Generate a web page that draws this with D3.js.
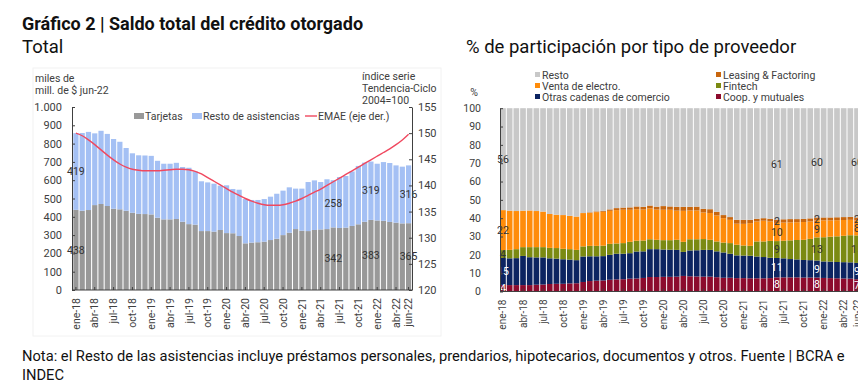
<!DOCTYPE html>
<html>
<head>
<meta charset="utf-8">
<script src="https://cdn.jsdelivr.net/npm/d3@7"></script>
<style>
body { margin: 0; background: #fff; }
svg text { font-family: Roboto, 'Liberation Sans', sans-serif; fill: #404040; }
</style>
</head>
<body>
<div id="chart"></div>
<script>
const width = 858, height = 391;

const months = ['ene-18','feb-18','mar-18','abr-18','may-18','jun-18','jul-18','ago-18','sep-18','oct-18','nov-18','dic-18',
    'ene-19','feb-19','mar-19','abr-19','may-19','jun-19','jul-19','ago-19','sep-19','oct-19','nov-19','dic-19',
    'ene-20','feb-20','mar-20','abr-20','may-20','jun-20','jul-20','ago-20','sep-20','oct-20','nov-20','dic-20',
    'ene-21','feb-21','mar-21','abr-21','may-21','jun-21','jul-21','ago-21','sep-21','oct-21','nov-21','dic-21',
    'ene-22','feb-22','mar-22','abr-22','may-22','jun-22'];
const tickMonths = ['ene-18','abr-18','jul-18','oct-18','ene-19','abr-19','jul-19','oct-19','ene-20','abr-20',
    'jul-20','oct-20','ene-21','abr-21','jul-21','oct-21','ene-22','abr-22','jun-22'];
const labelMonths = ['ene-18','jun-21','dic-21','jun-22'];

// left panel: miles de mill. de $ jun-22
const tarjetas = [438,433,437,464,470,459,444,441,433,422,416,415,413,395,386,386,388,373,360,357,322,322,319,328,
    311,310,295,255,259,261,264,273,280,300,313,333,324,322,328,331,333,342,339,341,350,359,373,383,380,378,372,368,364,365];
const restoAsist = [419,425,427,392,400,394,381,369,343,325,320,320,320,311,304,304,307,299,308,291,272,266,262,242,
    261,242,253,242,233,231,233,237,246,243,248,221,230,268,271,259,272,258,278,282,298,319,323,319,310,321,322,313,310,316];
const emae = [150.0,149.5,148.7,147.8,146.8,145.8,144.9,144.1,143.5,143.1,142.9,142.8,142.8,142.8,142.9,143.0,143.1,143.1,
    143.0,142.7,142.2,141.5,140.8,140.1,139.4,138.7,138.1,137.5,137.0,136.6,136.3,136.2,136.2,136.3,136.6,137.0,137.5,
    138.1,138.7,139.3,140.0,140.7,141.4,142.1,142.8,143.5,144.2,144.9,145.6,146.3,147.0,147.8,148.7,149.8];
const leftTicks = [0,100,200,300,400,500,600,700,800,900,1000];
const rightTicks = [120,125,130,135,140,145,150,155];

// right panel: % de participacion
const coop = [3.6,3.5,3.5,3.5,3.5,3.7,3.8,4.1,4.2,4.2,4.4,4.5,5.2,5.7,5.9,6.0,6.4,6.6,6.7,7.0,7.1,7.4,7.9,7.9,
    8.0,8.0,8.1,8.5,8.3,8.2,8.1,8.1,7.8,7.5,7.5,7.3,7.3,7.2,7.2,7.2,7.3,7.7,7.7,7.7,7.7,7.6,7.6,7.6,7.4,7.3,7.2,7.1,7.0,6.7];
const otras = [14.7,14.6,14.7,15.9,15.2,14.9,14.8,14.0,13.7,13.4,13.0,12.6,13.9,13.5,13.3,13.3,13.6,14.0,13.9,13.9,14.7,14.5,15.2,15.2,
    14.9,14.8,14.6,13.1,14.1,14.3,14.6,14.6,14.1,13.8,13.1,12.4,12.3,12.3,11.9,11.6,11.1,10.6,10.4,10.0,9.8,9.6,9.5,9.3,9.0,9.0,8.9,8.9,8.9,8.9];
const fintech = [4.3,4.6,4.9,4.8,5.5,5.6,5.6,5.7,5.8,5.7,5.7,5.6,5.5,5.7,5.7,5.7,6.0,5.6,5.8,6.2,5.9,5.9,5.4,5.1,
    5.1,5.2,5.5,5.5,6.1,6.0,5.9,5.5,5.4,5.4,5.8,5.8,5.5,5.4,8.2,8.5,9.2,9.2,9.6,10.2,10.6,11.0,11.6,12.6,13.2,13.6,14.0,14.4,14.8,15.0];
const electro = [21.8,21.4,20.8,19.9,20.0,19.7,19.4,18.5,18.2,18.4,18.2,18.2,18.2,18.0,18.4,18.5,18.0,18.2,18.2,17.5,17.2,16.9,16.8,16.5,
    16.6,16.6,15.9,16.9,15.7,15.7,14.5,14.6,14.2,13.3,12.7,11.5,11.8,12.4,10.9,11.3,10.6,9.9,9.9,9.8,9.7,9.7,9.5,9.3,9.2,8.9,8.8,8.6,8.4,8.2];
const leasing = [0,0,0,0,0,0,0,0,0,0,0,0,0,0.3,0.4,0.5,0.8,1.1,1.2,1.3,1.5,1.5,1.6,1.6,
    2.0,1.8,2.1,2.2,2.0,2.1,2.0,2.1,2.0,1.7,1.5,2.1,2.2,1.8,1.5,1.4,1.5,1.8,1.8,1.8,1.7,1.7,1.7,1.6,1.6,1.6,1.6,1.6,1.6,1.6];
const restoProv = [55.6,55.9,56.1,55.9,55.8,56.1,56.4,57.7,58.1,58.3,58.7,59.1,57.2,56.8,56.3,56.0,55.2,54.5,54.2,54.1,53.6,53.8,53.1,53.7,
    53.4,53.6,53.8,53.8,53.8,53.7,54.9,55.1,56.5,58.3,59.4,60.9,60.9,60.9,60.3,60.0,60.3,60.8,60.6,60.5,60.5,60.4,60.1,59.6,59.6,59.6,59.5,59.4,59.3,59.6];
const pctTicks = [0,10,20,30,40,50,60,70,80,90,100];

const provKeys = ['coop','otras','fintech','electro','leasing','resto'];
const provNames = {coop: 'Coop. y mutuales', otras: 'Otras cadenas de comercio', fintech: 'Fintech',
    electro: 'Venta de electro.', leasing: 'Leasing & Factoring', resto: 'Resto'};
const provColors = {coop: '#8c0b2d', otras: '#0c2461', fintech: '#7b8a12', electro: '#ff8c0a', leasing: '#c8660e', resto: '#c8c8c8'};

const esLocale = d3.formatLocale({decimal: ',', thousands: '.', grouping: [3], currency: ['$', '']});
const fmtMiles = esLocale.format(',');

const svg = d3.select('#chart').append('svg').attr('width', width).attr('height', height);

function drawHeader() {
    svg.append('text').attr('x', 22).attr('y', 30).style('font-size', '18px').style('font-weight', 'bold')
        .style('fill', '#111').text('Gráfico 2 | Saldo total del crédito otorgado');
    svg.append('text').attr('x', 22).attr('y', 53).style('font-size', '18.5px').style('fill', '#111').text('Total');
    svg.append('text').attr('x', 466).attr('y', 53).style('font-size', '18.5px').style('fill', '#111')
        .text('% de participación por tipo de proveedor');
    svg.append('text').attr('x', 22).attr('y', 361).style('font-size', '14.7px').style('fill', '#111')
        .text('Nota: el Resto de las asistencias incluye préstamos personales, prendarios, hipotecarios, documentos y otros. Fuente | BCRA e');
    svg.append('text').attr('x', 22).attr('y', 380).style('font-size', '14.7px').style('fill', '#111').text('INDEC');
}

function styleAxis(g) {
    g.selectAll('path, line').attr('stroke', '#404040');
    g.selectAll('text').style('fill', '#404040');
}

function drawLeft() {
    const x = d3.scaleBand().domain(months).range([73, 411.5]).paddingInner(0.17).paddingOuter(0.05);
    const y = d3.scaleLinear().domain([0, 1000]).range([290, 107]);
    const y2 = d3.scaleLinear().domain([120, 155]).range([290, 107]);

    svg.append('rect').attr('x', 33).attr('y', 68).attr('width', 408).attr('height', 268)
        .attr('fill', 'none').attr('stroke', '#f2f2f2');

    const table = months.map((m, i) => ({month: m, tarjetas: tarjetas[i], resto: restoAsist[i]}));
    const series = d3.stack().keys(['tarjetas', 'resto'])(table);
    const colors = {tarjetas: '#999999', resto: '#a4c0f4'};

    svg.append('g').selectAll('g').data(series).join('g')
        .attr('fill', d => colors[d.key])
        .selectAll('rect').data(d => d).join('rect')
            .attr('x', d => x(d.data.month))
            .attr('width', x.bandwidth())
            .attr('y', d => y(d[1]))
            .attr('height', d => y(d[0]) - y(d[1]));

    const line = d3.line().x((d, i) => x(months[i]) + x.bandwidth() / 2).y(d => y2(d)).curve(d3.curveMonotoneX);
    svg.append('path').datum(emae).attr('d', line).attr('fill', 'none')
        .attr('stroke', '#f0485f').attr('stroke-width', 1.4);

    // data labels
    const lab = svg.append('g').style('font-size', '10.5px').attr('text-anchor', 'middle');
    series.forEach(s => {
        s.forEach(d => {
            if (labelMonths.indexOf(d.data.month) < 0) return;
            lab.append('text')
                .attr('x', x(d.data.month) + x.bandwidth() / 2)
                .attr('y', (y(d[0]) + y(d[1])) / 2)
                .attr('dy', '0.35em')
                .style('fill', '#333')
                .text(d.data[s.key]);
        });
    });

    const gy = svg.append('g').attr('transform', 'translate(72,0)')
        .call(d3.axisLeft(y).tickValues(leftTicks).tickSizeInner(-3).tickSizeOuter(0).tickPadding(10)
            .tickFormat(d => fmtMiles(d)))
        .style('font-size', '11px');
    styleAxis(gy);

    const gy2 = svg.append('g').attr('transform', 'translate(412,0)')
        .call(d3.axisRight(y2).tickValues(rightTicks).tickSizeInner(-3).tickSizeOuter(0).tickPadding(6))
        .style('font-size', '11px');
    styleAxis(gy2);

    const gx = svg.append('g').attr('transform', 'translate(0,290)')
        .call(d3.axisBottom(x).tickValues(tickMonths).tickSizeInner(-3).tickSizeOuter(0))
        .style('font-size', '10.5px');
    gx.select('.domain').attr('d', 'M72,0H412');
    gx.selectAll('text').attr('transform', 'rotate(-90)').attr('text-anchor', 'end')
        .attr('x', -8).attr('y', 0).attr('dy', '0.35em');
    styleAxis(gx);

    // units
    const u = svg.append('g').style('font-size', '10.5px');
    u.append('text').attr('x', 35).attr('y', 82).text('miles de');
    u.append('text').attr('x', 35).attr('y', 94).text('mill. de $ jun-22');
    u.append('text').attr('x', 362).attr('y', 80).text('índice serie');
    u.append('text').attr('x', 362).attr('y', 92).text('Tendencia-Ciclo');
    u.append('text').attr('x', 362).attr('y', 104).text('2004=100');

    // legend
    const lg = svg.append('g').style('font-size', '10.5px');
    lg.append('rect').attr('x', 134).attr('y', 113).attr('width', 10).attr('height', 6).attr('fill', colors.tarjetas);
    lg.append('text').attr('x', 145).attr('y', 120).text('Tarjetas');
    lg.append('rect').attr('x', 192).attr('y', 113).attr('width', 10).attr('height', 6).attr('fill', colors.resto);
    lg.append('text').attr('x', 203).attr('y', 120).text('Resto de asistencias');
    lg.append('line').attr('x1', 305).attr('x2', 317).attr('y1', 116).attr('y2', 116)
        .attr('stroke', '#f0485f').attr('stroke-width', 1.4);
    lg.append('text').attr('x', 318).attr('y', 120).text('EMAE (eje der.)');
}

function drawRight() {
    const x = d3.scaleBand().domain(months).range([500, 860]).paddingInner(0.15).paddingOuter(0.02);
    const y = d3.scaleLinear().domain([0, 100]).range([291.5, 108.2]);

    const table = months.map((m, i) => ({month: m, coop: coop[i], otras: otras[i], fintech: fintech[i],
        electro: electro[i], leasing: leasing[i], resto: restoProv[i]}));
    const series = d3.stack().keys(provKeys)(table);

    svg.append('g').selectAll('g').data(series).join('g')
        .attr('fill', d => provColors[d.key])
        .selectAll('rect').data(d => d).join('rect')
            .attr('x', d => x(d.data.month))
            .attr('width', x.bandwidth())
            .attr('y', d => y(d[1]))
            .attr('height', d => y(d[0]) - y(d[1]));

    const lab = svg.append('g').style('font-size', '10.5px').attr('text-anchor', 'middle');
    series.forEach(s => {
        s.forEach(d => {
            if (labelMonths.indexOf(d.data.month) < 0) return;
            const v = Math.round(d.data[s.key]);
            if (v === 0) return;
            lab.append('text')
                .attr('x', x(d.data.month) + x.bandwidth() / 2)
                .attr('y', (y(d[0]) + y(d[1])) / 2)
                .attr('dy', '0.35em')
                .style('fill', (s.key === 'coop' || s.key === 'otras') ? '#fff' : '#333')
                .text(v);
        });
    });

    const gy = svg.append('g').attr('transform', 'translate(500,0)')
        .call(d3.axisLeft(y).tickValues(pctTicks).tickSizeInner(-3).tickSizeOuter(0).tickPadding(19))
        .style('font-size', '10.5px');
    styleAxis(gy);

    const gx = svg.append('g').attr('transform', 'translate(0,291.5)')
        .call(d3.axisBottom(x).tickValues(tickMonths).tickSizeInner(-3).tickSizeOuter(0))
        .style('font-size', '10px');
    gx.select('.domain').attr('d', 'M500,0H860');
    gx.selectAll('text').attr('transform', 'rotate(-90)').attr('text-anchor', 'end')
        .attr('x', -8).attr('y', 0).attr('dy', '0.35em');
    styleAxis(gx);

    svg.append('text').attr('x', 474).attr('y', 96).attr('text-anchor', 'middle')
        .style('font-size', '10.5px').text('%');

    // legend, two columns
    const order = [['resto', 'leasing'], ['electro', 'fintech'], ['otras', 'coop']];
    const lg = svg.append('g').style('font-size', '10.5px');
    order.forEach((row, r) => {
        row.forEach((k, c) => {
            const lx = c === 0 ? 535 : 716;
            const ly = 75 + r * 11;
            lg.append('rect').attr('x', lx).attr('y', ly - 3).attr('width', 5).attr('height', 5).attr('fill', provColors[k]);
            lg.append('text').attr('x', lx + 7).attr('y', ly).attr('dy', '0.35em').text(provNames[k]);
        });
    });
}

function main() {
    drawHeader();
    drawLeft();
    drawRight();
}

main();
</script>
</body>
</html>
